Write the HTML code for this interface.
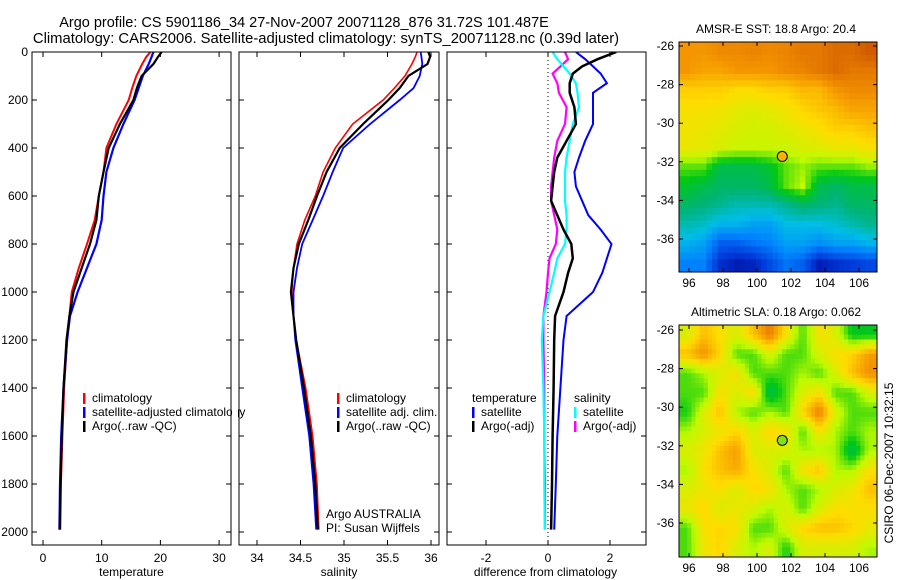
<!DOCTYPE html>
<html><head><meta charset="utf-8">
<style>
html,body{margin:0;padding:0;background:#fff;}
svg{display:block;font-family:"Liberation Sans",sans-serif;}
</style></head>
<body>
<svg id="fig" width="900" height="580" viewBox="0 0 900 580"></svg>
<script>
// ---- data ----
const depths = [0,20,50,100,150,200,300,400,500,600,700,800,900,1000,1100,1200,1400,1600,1800,1990];
const tempClim = [18.3,17.6,16.9,15.9,15.2,14.6,12.5,10.8,10.3,9.5,8.8,7.5,6.1,4.9,4.5,4.1,3.6,3.3,3.05,2.95];
const tempSat  = [18.8,18.5,18.0,17.0,16.3,15.6,13.7,12.0,10.8,10.3,10.0,9.1,7.5,5.9,4.6,4.1,3.5,3.1,2.9,2.8];
const tempArgo = [20.2,19.6,18.8,16.8,16.0,15.4,13.1,11.2,10.3,9.5,9.1,8.0,6.6,5.2,4.5,4.0,3.5,3.2,3.0,2.85];
const salClim = [35.84,35.82,35.78,35.70,35.58,35.45,35.10,34.90,34.76,34.67,34.55,34.46,34.42,34.40,34.42,34.45,34.56,34.64,34.69,34.71];
const salSat  = [35.88,35.89,35.90,35.87,35.80,35.64,35.30,34.99,34.87,34.76,34.64,34.52,34.46,34.42,34.42,34.44,34.52,34.60,34.65,34.68];
const salArgo = [35.97,35.99,35.96,35.74,35.64,35.51,35.22,34.95,34.80,34.69,34.59,34.48,34.42,34.39,34.42,34.45,34.54,34.62,34.67,34.70];
const diffDepths = [0,30,60,90,130,170,230,300,370,440,500,560,620,680,740,800,860,920,1000,1100,1200,1400,1600,1800,1990];
const dTempSat  = [0.9,1.2,1.45,1.7,1.9,1.45,1.45,1.45,1.2,1.0,0.85,0.9,1.1,1.3,1.7,2.05,1.9,1.75,1.45,0.6,0.5,0.4,0.3,0.25,0.2];
const dTempArgo = [2.2,1.6,1.1,0.8,0.7,0.7,0.85,0.9,0.6,0.3,0.2,0.15,0.1,0.3,0.5,0.75,0.8,0.65,0.5,0.23,0.2,0.18,0.15,0.13,0.1];
const dSalSat   = [0.15,0.3,0.5,0.7,0.9,0.95,1.0,0.8,0.7,0.6,0.55,0.55,0.55,0.6,0.6,0.55,0.3,0.2,0.05,-0.15,-0.2,-0.15,-0.12,-0.12,-0.1];
const dSalArgo  = [0.55,0.65,0.4,0.15,0.3,0.35,0.6,0.55,0.3,0.2,0.15,0.1,0.1,0.2,0.3,0.25,0.05,0.0,-0.05,-0.15,-0.15,-0.12,-0.12,-0.1,-0.1];
const depthTicks = [0,200,400,600,800,1000,1200,1400,1600,1800,2000];
const tempTicks = [0,10,20,30];
const salTicks = [34,34.5,35,35.5,36];
const diffTicks = [-2,0,2];
const lonTicks = [96,98,100,102,104,106];
const latTicks = [-26,-28,-30,-32,-34,-36];
const sstGrid = [
[0.80,0.80,0.82,0.82,0.83,0.82,0.83,0.85,0.85,0.87,0.87,0.90],
[0.80,0.78,0.78,0.80,0.80,0.80,0.82,0.83,0.85,0.87,0.85,0.85],
[0.72,0.72,0.72,0.70,0.70,0.72,0.72,0.75,0.75,0.80,0.82,0.82],
[0.69,0.69,0.68,0.66,0.65,0.66,0.68,0.71,0.73,0.75,0.78,0.78],
[0.68,0.67,0.66,0.64,0.63,0.63,0.65,0.67,0.69,0.72,0.72,0.74],
[0.67,0.66,0.64,0.62,0.62,0.62,0.62,0.64,0.65,0.67,0.67,0.69],
[0.55,0.55,0.45,0.45,0.45,0.48,0.55,0.58,0.55,0.55,0.55,0.58],
[0.48,0.45,0.42,0.42,0.42,0.45,0.55,0.60,0.45,0.42,0.45,0.45],
[0.42,0.40,0.38,0.35,0.35,0.35,0.38,0.42,0.40,0.38,0.42,0.42],
[0.35,0.33,0.28,0.28,0.25,0.25,0.30,0.30,0.30,0.32,0.35,0.38],
[0.28,0.25,0.15,0.15,0.18,0.20,0.25,0.25,0.22,0.25,0.25,0.28],
[0.20,0.20,0.08,0.05,0.06,0.12,0.18,0.15,0.05,0.08,0.10,0.12]];
const slaGrid = [
[0.55,0.65,0.60,0.55,0.65,0.75,0.60,0.45,0.60,0.55,0.40,0.40],
[0.65,0.72,0.62,0.45,0.45,0.55,0.45,0.45,0.55,0.60,0.62,0.70],
[0.45,0.50,0.55,0.60,0.45,0.45,0.45,0.50,0.45,0.55,0.65,0.72],
[0.45,0.45,0.60,0.55,0.62,0.35,0.45,0.55,0.60,0.45,0.45,0.55],
[0.42,0.55,0.65,0.50,0.45,0.50,0.45,0.62,0.75,0.55,0.45,0.45],
[0.50,0.55,0.58,0.62,0.55,0.62,0.60,0.45,0.60,0.50,0.45,0.50],
[0.55,0.58,0.65,0.70,0.55,0.55,0.55,0.50,0.50,0.50,0.35,0.50],
[0.50,0.60,0.65,0.68,0.60,0.55,0.45,0.60,0.65,0.50,0.50,0.60],
[0.55,0.58,0.60,0.55,0.62,0.60,0.50,0.45,0.50,0.55,0.58,0.65],
[0.58,0.62,0.55,0.58,0.55,0.50,0.55,0.45,0.55,0.60,0.60,0.60],
[0.45,0.60,0.62,0.60,0.45,0.45,0.55,0.62,0.65,0.65,0.62,0.58],
[0.45,0.58,0.62,0.55,0.50,0.55,0.42,0.55,0.55,0.55,0.55,0.50]];
const argoPos = [101.487,-31.72];

// ---- helpers ----
const NS='http://www.w3.org/2000/svg';
const svg=document.getElementById('fig');
function el(tag,attrs,parent){const e=document.createElementNS(NS,tag);for(const k in attrs)e.setAttribute(k,attrs[k]);(parent||svg).appendChild(e);return e;}
function txt(x,y,s,anchor,size,parent){const t=el('text',{x:x,y:y,'text-anchor':anchor||'start','font-size':size||12,fill:'#000'},parent);t.textContent=s;return t;}
const cstops=[[0,0,140],[0,60,220],[0,130,255],[0,190,230],[0,180,120],[0,200,20],[190,250,0],[255,220,0],[245,150,0],[210,90,0],[180,0,0]];
function cmap(v){v=Math.max(0,Math.min(1,v))*(cstops.length-1);const i=Math.min(cstops.length-2,Math.floor(v)),f=v-i;
 const a=cstops[i],b=cstops[i+1];return 'rgb('+a.map((c,k)=>Math.round(c+(b[k]-c)*f)).join(',')+')';}

const yTop=52, yBot=545;
const yD=d=>52+0.24*d;
const panels=[
 {name:'temperature',x0:32,x1:231,sx:v=>43+5.87*v,ticks:tempTicks,label:'temperature'},
 {name:'salinity',x0:239,x1:439,sx:v=>257+87*(v-34),ticks:salTicks,label:'salinity'},
 {name:'difference',x0:447,x1:646,sx:v=>548+31*v,ticks:diffTicks,label:'difference from climatology'}];

let tg=el('g',{},svg);


txt(304,27,'Argo profile: CS 5901186_34 27-Nov-2007 20071128_876 31.72S 101.487E','middle',14.5,tg);
txt(326,43,'Climatology: CARS2006. Satellite-adjusted climatology: synTS_20071128.nc (0.39d later)','middle',14.8,tg);

function line(g,xs,ds,sx,color,w,name){
 const pts=xs.map((v,i)=>sx(v).toFixed(1)+','+yD(ds[i]).toFixed(1)).join(' ');
 const p=el('polyline',{points:pts,fill:'none',stroke:color,'stroke-width':w},g);
 
 
}

panels.forEach((P,pi)=>{
 const g=el('g',{},svg);
 
 
 const cp=el('clipPath',{id:'clip'+pi},g);
 el('rect',{x:P.x0,y:yTop,width:P.x1-P.x0,height:yBot-yTop},cp);
 P.ticks.forEach(t=>{const x=P.sx(t);
  el('line',{x1:x,x2:x,y1:yTop,y2:yTop+5,stroke:'#000'},g);
  el('line',{x1:x,x2:x,y1:yBot,y2:yBot-5,stroke:'#000'},g);
  const l=txt(x,562,String(t),'middle',12,g);
  
  
 });
 depthTicks.forEach(d=>{const y=yD(d);
  el('line',{x1:P.x0,x2:P.x0+5,y1:y,y2:y,stroke:'#000'},g);
  el('line',{x1:P.x1,x2:P.x1-5,y1:y,y2:y,stroke:'#000'},g);
  if(pi===0){const l=txt(28,y+4,String(d),'end',12,g);
   
   }
 });
 const xl=txt((P.x0+P.x1)/2+(pi===2?-1:0),576,P.label,'middle',12,g);
 
 
 const lg=el('g',{'clip-path':'url(#clip'+pi+')'},g);
 if(pi===0){
  line(lg,tempClim,depths,P.sx,'#f00',2,'temp-climatology-line');
  line(lg,tempSat,depths,P.sx,'#00f',2.2,'temp-satellite-line');
  line(lg,tempArgo,depths,P.sx,'#000',2.2,'temp-argo-line');
 } else if(pi===1){
  line(lg,salClim,depths,P.sx,'#f00',1.6,'sal-climatology-line');
  line(lg,salSat,depths,P.sx,'#00f',1.8,'sal-satellite-line');
  line(lg,salArgo,depths,P.sx,'#000',2.2,'sal-argo-line');
 } else {
  el('line',{x1:P.sx(0),x2:P.sx(0),y1:yTop,y2:yBot,stroke:'#000','stroke-dasharray':'1,3'},lg);
  line(lg,dSalArgo,diffDepths,P.sx,'#f0f',2.2,'diff-sal-argo-line');
  line(lg,dSalSat,diffDepths,P.sx,'#0ff',2.2,'diff-sal-satellite-line');
  line(lg,dTempSat,diffDepths,P.sx,'#00f',2,'diff-temp-satellite-line');
  line(lg,dTempArgo,diffDepths,P.sx,'#000',2.5,'diff-temp-argo-line');
 }
 el('rect',{x:P.x0,y:yTop,width:P.x1-P.x0,height:yBot-yTop,fill:'none',stroke:'#000','stroke-width':1},g);
});

function legend(items,mx,y0,name){
 const g=el('g',{},svg);
 
 
 items.forEach((it,i)=>{const y=y0+i*14;
  if(it[1])el('rect',{x:mx,y:y-9,width:2.5,height:11,fill:it[1]},g);
  txt(mx+(it[1]?9:0),y,it[0],'start',12,g);});
}
legend([['climatology','#f00'],['satellite-adjusted climatology','#00f'],['Argo(..raw -QC)','#000']],83,402,'temperature-legend');
legend([['climatology','#f00'],['satellite adj. clim.','#00f'],['Argo(..raw -QC)','#000']],337,402,'salinity-legend');
legend([['temperature',null],['satellite','#00f'],['Argo(-adj)','#000']],472,402,'diff-temperature-legend');
legend([['salinity',null],['satellite','#0ff'],['Argo(-adj)','#f0f']],574,402,'diff-salinity-legend');
el('rect',{x:232,y:388,width:6,height:40,fill:'#fff'},svg);
const ag=el('g',{},svg);


txt(326,518,'Argo AUSTRALIA','start',12,ag);
txt(326,532,'PI: Susan Wijffels','start',12,ag);

function sample(grid,r,c){const nr=grid.length,nc=grid[0].length;
 r=Math.max(0,Math.min(nr-1,r));c=Math.max(0,Math.min(nc-1,c));
 const r0=Math.floor(r),c0=Math.floor(c),r1=Math.min(nr-1,r0+1),c1=Math.min(nc-1,c0+1),fr=r-r0,fc=c-c0;
 return grid[r0][c0]*(1-fr)*(1-fc)+grid[r0][c1]*(1-fr)*fc+grid[r1][c0]*fr*(1-fc)+grid[r1][c1]*fr*fc;}
function map(grid,top,bot,lat0y,title,name,dotColor,offset,sub){
 const g=el('g',{},svg);
 
 
 const x0=679,x1=877;
 const sx=lon=>689+17*(lon-96);
 const sy=lat=>lat0y+19.3*(-26-lat);
 const lonL=95.41,lonR=107.05;
 const latT=-26+(lat0y-top)/19.3, latB=-26-(bot-lat0y)/19.3;
 const nr=grid.length*sub,nc=grid[0].length*sub;
 const dLon=(lonR-lonL)/nc,dLat=(latT-latB)/nr;
 for(let r=0;r<nr;r++)for(let c=0;c<nc;c++){
  const v=sample(grid,(r+0.5)/sub-0.5,(c+0.5)/sub-0.5)+offset;
  const xa=sx(lonL+c*dLon),xb=sx(lonL+(c+1)*dLon),ya=sy(latT-r*dLat),yb=sy(latT-(r+1)*dLat);
  const cell=el('rect',{x:xa.toFixed(2),y:ya.toFixed(2),width:(xb-xa+0.5).toFixed(2),height:(yb-ya+0.5).toFixed(2),fill:cmap(v)},g);
  
  
 }
 el('rect',{x:x0,y:top,width:x1-x0,height:bot-top,fill:'none',stroke:'#000'},g);
 lonTicks.forEach(l=>{const x=sx(l);
  el('line',{x1:x,x2:x,y1:top,y2:top+4,stroke:'#000'},g);
  el('line',{x1:x,x2:x,y1:bot,y2:bot-4,stroke:'#000'},g);
  txt(x,bot+15,String(l),'middle',12,g);});
 latTicks.forEach(l=>{const y=sy(l);
  el('line',{x1:x0,x2:x0+4,y1:y,y2:y,stroke:'#000'},g);
  el('line',{x1:x1,x2:x1-4,y1:y,y2:y,stroke:'#000'},g);
  txt(674,y+4,String(l),'end',12,g);});
 const t=txt(776,top-9,title,'middle',12,g);
 
 
 const m=el('circle',{cx:sx(argoPos[0]),cy:sy(argoPos[1]),r:5,fill:dotColor,stroke:'#000','stroke-width':1},g);
 
 
}
map(sstGrid,42,272,46,'AMSR-E SST: 18.8 Argo: 20.4','sst-map','#ffb000',0,3);
map(slaGrid,325,557,330,'Altimetric SLA: 0.18 Argo: 0.062','sla-map','#80e020',0.09,4);

const st=el('text',{x:0,y:0,'font-size':12,'text-anchor':'middle',transform:'translate(893,463) rotate(-90)',fill:'#000'},svg);
st.textContent='CSIRO 06-Dec-2007 10:32:15';


</script>
</body></html>
